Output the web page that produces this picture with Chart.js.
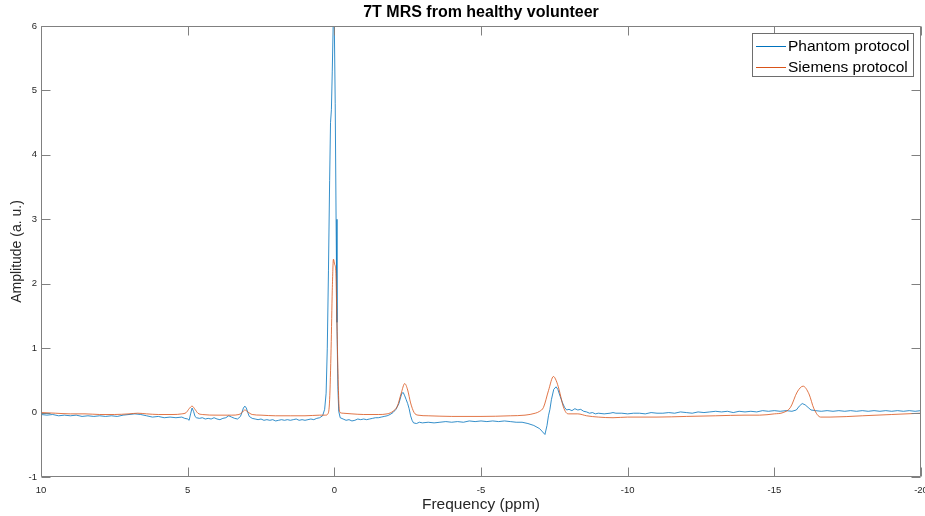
<!DOCTYPE html>
<html>
<head>
<meta charset="utf-8">
<script src="https://cdn.jsdelivr.net/npm/chart.js@4.4.1/dist/chart.umd.min.js"></script>
<style>
html,body{margin:0;padding:0;background:#fff;}
#wrap{width:925px;height:516px;position:relative;}
</style>
</head>
<body>
<div id="wrap"><canvas id="c" width="925" height="516"></canvas></div>
<script>
const chartTitle = "7T MRS from healthy volunteer";
const xTitle = "Frequency (ppm)";
const yTitle = "Amplitude (a. u.)";
const seriesNames = ["Phantom protocol", "Siemens protocol"];
const seriesColors = ["#0072BD", "#D95319"];
const xTicks = [10, 5, 0, -5, -10, -15, -20];
const yTicks = [-1, 0, 1, 2, 3, 4, 5, 6];

const ppmPhantom = [10.0,9.8,9.6,9.4,9.2,9.0,8.8,8.6,8.4,8.2,8.0,7.8,7.6,7.4,7.2,7.0,6.8,6.6,6.4,6.2,6.0,5.8,5.6,5.4,5.2,5.1,5.0,4.95,4.9,4.85,4.8,4.75,4.7,4.6,4.5,4.4,4.3,4.2,4.1,4.0,3.9,3.8,3.7,3.6,3.5,3.4,3.3,3.2,3.15,3.1,3.05,3.0,2.95,2.9,2.8,2.7,2.6,2.5,2.4,2.3,2.2,2.1,2.0,1.9,1.8,1.7,1.6,1.5,1.4,1.3,1.2,1.1,1.0,0.9,0.8,0.7,0.6,0.5,0.4,0.33,0.28,0.24,0.2,0.16,0.13,0.1,0.07,0.04,0.02,0.0,-0.03,-0.06,-0.09,-0.12,-0.15,-0.2,-0.3,-0.4,-0.5,-0.6,-0.7,-0.8,-0.9,-1.0,-1.1,-1.2,-1.3,-1.4,-1.5,-1.6,-1.7,-1.8,-1.9,-2.0,-2.1,-2.2,-2.3,-2.35,-2.4,-2.45,-2.5,-2.55,-2.6,-2.65,-2.7,-2.8,-2.9,-3.0,-3.2,-3.4,-3.6,-3.8,-4.0,-4.2,-4.4,-4.6,-4.8,-5.0,-5.2,-5.4,-5.6,-5.8,-6.0,-6.2,-6.4,-6.6,-6.8,-7.0,-7.1,-7.18,-7.25,-7.3,-7.35,-7.4,-7.48,-7.56,-7.62,-7.7,-7.78,-7.85,-7.92,-8.0,-8.1,-8.2,-8.3,-8.4,-8.5,-8.6,-8.7,-8.8,-8.9,-9.0,-9.2,-9.4,-9.5,-9.6,-9.8,-10.0,-10.2,-10.4,-10.6,-10.8,-11.0,-11.2,-11.4,-11.6,-11.8,-12.0,-12.2,-12.4,-12.6,-12.8,-13.0,-13.2,-13.4,-13.6,-13.8,-14.0,-14.2,-14.4,-14.6,-14.8,-15.0,-15.2,-15.4,-15.6,-15.75,-15.85,-15.95,-16.05,-16.15,-16.25,-16.4,-16.6,-16.8,-17.0,-17.2,-17.4,-17.6,-17.8,-18.0,-18.2,-18.4,-18.6,-18.8,-19.0,-19.2,-19.4,-19.6,-19.8,-20.0];
const ampPhantom = [-0.03,-0.04,-0.03,-0.05,-0.04,-0.05,-0.04,-0.06,-0.05,-0.06,-0.05,-0.06,-0.05,-0.06,-0.04,-0.03,-0.02,-0.03,-0.05,-0.07,-0.06,-0.08,-0.07,-0.08,-0.07,-0.09,-0.10,-0.12,-0.02,0.07,0.02,-0.06,-0.08,-0.09,-0.08,-0.10,-0.09,-0.10,-0.08,-0.10,-0.11,-0.09,-0.08,-0.05,-0.07,-0.09,-0.10,-0.06,0.00,0.07,0.10,0.07,0.00,-0.06,-0.09,-0.10,-0.11,-0.10,-0.12,-0.11,-0.12,-0.11,-0.13,-0.12,-0.11,-0.12,-0.11,-0.12,-0.11,-0.10,-0.12,-0.11,-0.12,-0.11,-0.10,-0.11,-0.09,-0.08,-0.05,0.05,0.30,1.00,2.20,3.60,4.50,4.70,5.30,6.00,6.40,6.00,4.80,3.00,1.40,0.40,0.02,-0.08,-0.10,-0.12,-0.11,-0.13,-0.12,-0.10,-0.11,-0.10,-0.11,-0.10,-0.09,-0.08,-0.08,-0.07,-0.06,-0.05,-0.03,0.00,0.05,0.14,0.30,0.31,0.26,0.20,0.14,0.06,-0.05,-0.12,-0.16,-0.17,-0.15,-0.16,-0.15,-0.16,-0.15,-0.14,-0.15,-0.14,-0.15,-0.13,-0.14,-0.13,-0.14,-0.13,-0.14,-0.13,-0.14,-0.15,-0.15,-0.17,-0.20,-0.25,-0.30,-0.34,-0.20,-0.05,0.05,0.20,0.36,0.40,0.36,0.25,0.15,0.08,0.04,0.05,0.03,0.06,0.04,0.05,0.02,0.01,-0.01,0.00,-0.02,-0.01,-0.02,-0.01,0.00,-0.01,-0.01,-0.02,-0.01,-0.01,-0.02,0.00,-0.01,-0.01,0.00,-0.01,0.01,0.00,-0.01,0.01,0.00,0.01,0.02,0.01,0.02,0.00,0.02,0.01,0.02,0.01,0.03,0.02,0.03,0.02,0.03,0.02,0.04,0.10,0.14,0.12,0.08,0.04,0.03,0.02,0.03,0.02,0.03,0.02,0.03,0.02,0.03,0.02,0.03,0.02,0.03,0.02,0.03,0.02,0.03,0.02,0.03];

const ppmSiemens = [10.0,9.5,9.0,8.5,8.0,7.5,7.0,6.7,6.4,6.0,5.5,5.2,5.05,4.95,4.85,4.75,4.65,4.5,4.0,3.5,3.25,3.15,3.05,2.95,2.8,2.5,2.0,1.5,1.0,0.5,0.3,0.22,0.16,0.11,0.07,0.03,-0.01,-0.05,-0.08,-0.12,-0.16,-0.2,-0.3,-0.6,-1.0,-1.5,-1.8,-2.0,-2.15,-2.28,-2.4,-2.5,-2.6,-2.72,-2.85,-3.2,-4.0,-5.0,-6.0,-6.5,-6.85,-7.0,-7.13,-7.3,-7.47,-7.56,-7.66,-7.8,-7.9,-8.0,-8.3,-8.6,-9.0,-9.5,-10.0,-11.0,-12.0,-13.0,-14.0,-14.5,-15.0,-15.3,-15.55,-15.78,-15.98,-16.18,-16.35,-16.58,-16.9,-18.0,-19.0,-20.0];
const ampSiemens = [0.00,-0.01,-0.02,-0.02,-0.03,-0.03,-0.02,-0.01,-0.02,-0.03,-0.03,-0.02,0.00,0.06,0.10,0.05,-0.01,-0.03,-0.04,-0.04,-0.03,0.00,0.04,0.01,-0.03,-0.04,-0.05,-0.05,-0.05,-0.04,-0.04,-0.02,0.20,1.00,1.90,2.38,2.30,2.20,1.60,0.70,0.10,0.00,-0.01,-0.02,-0.03,-0.03,-0.02,0.02,0.10,0.30,0.45,0.35,0.15,0.00,-0.04,-0.05,-0.06,-0.06,-0.05,-0.04,-0.01,0.02,0.08,0.34,0.56,0.50,0.36,0.10,0.00,-0.02,-0.02,-0.05,-0.07,-0.08,-0.07,-0.07,-0.06,-0.05,-0.04,-0.04,-0.02,0.00,0.08,0.32,0.41,0.29,0.06,-0.07,-0.07,-0.05,-0.03,-0.01];

const FONT = "'Liberation Sans', Arial, Helvetica, sans-serif";
const AXIS_COLOR = "#808080";
const TEXT_COLOR = "#262626";

const toPts = (xs, ys) => xs.map((x, i) => ({x: x, y: ys[i]}));

const boxPlugin = {
  id: 'boxTicks',
  afterDraw(chart) {
    const {ctx, chartArea: a, scales} = chart;
    const xs = scales.x, ys = scales.y;
    const L = Math.round(a.left) + 0.5, R = Math.round(a.right) - 0.5;
    const T = Math.round(a.top) + 0.5, B = Math.round(a.bottom) - 0.5;
    const tl = 9;
    ctx.save();
    ctx.strokeStyle = AXIS_COLOR;
    ctx.lineWidth = 1;
    ctx.beginPath();
    ctx.rect(L, T, R - L, B - T);
    xs.ticks.forEach(t => {
      const px = Math.round(xs.getPixelForValue(t.value)) + 0.5;
      ctx.moveTo(px, B); ctx.lineTo(px, B - tl);
      ctx.moveTo(px, T); ctx.lineTo(px, T + tl);
    });
    ys.ticks.forEach(t => {
      const py = Math.round(ys.getPixelForValue(t.value)) + 0.5;
      ctx.moveTo(L, py); ctx.lineTo(L + tl, py);
      ctx.moveTo(R, py); ctx.lineTo(R - tl, py);
    });
    ctx.stroke();

    // legend
    const lx = 752.5, ly = 33.5, lw = 161, lh = 43;
    ctx.fillStyle = '#fff';
    ctx.fillRect(lx, ly, lw, lh);
    ctx.strokeStyle = '#6e6e6e';
    ctx.lineWidth = 1;
    ctx.strokeRect(lx, ly, lw, lh);
    ctx.font = "15.5px " + FONT;
    ctx.textBaseline = 'middle';
    ctx.textAlign = 'left';
    seriesNames.forEach((name, i) => {
      const cy = 46 + i * 21;
      ctx.beginPath();
      ctx.strokeStyle = seriesColors[i];
      ctx.lineWidth = 1;
      ctx.moveTo(756, cy + 0.5); ctx.lineTo(786, cy + 0.5);
      ctx.stroke();
      ctx.fillStyle = '#000';
      ctx.fillText(name, 788, cy + 0.5);
    });
    ctx.restore();
  }
};

new Chart(document.getElementById('c'), {
  type: 'scatter',
  data: {
    datasets: [
      {label: seriesNames[0], data: toPts(ppmPhantom, ampPhantom), showLine: true, borderColor: seriesColors[0], borderWidth: 0.8, pointRadius: 0, tension: 0, order: 1},
      {label: seriesNames[1], data: toPts(ppmSiemens, ampSiemens), showLine: true, borderColor: seriesColors[1], borderWidth: 0.8, pointRadius: 0, tension: 0.35, cubicInterpolationMode: 'monotone', order: 0}
    ]
  },
  options: {
    responsive: false,
    animation: false,
    devicePixelRatio: 1,
    layout: {padding: {left: 0, right: 4, top: 0, bottom: 0}},
    plugins: {
      legend: {display: false},
      tooltip: {enabled: false},
      title: {
        display: true, text: chartTitle, fullSize: false,
        color: '#000', font: {family: FONT, size: 16, weight: 'bold', lineHeight: 1.125},
        padding: {top: 4, bottom: 4}
      }
    },
    scales: {
      x: {
        type: 'linear', reverse: true, min: -20, max: 10,
        afterBuildTicks: s => { s.ticks = xTicks.map(v => ({value: v})); },
        afterFit: s => { s.height = 39; s.paddingLeft = 0; s.paddingRight = 0; },
        grid: {display: false, drawTicks: false},
        border: {display: false},
        ticks: {color: TEXT_COLOR, font: {family: FONT, size: 9.5}, padding: 8, maxRotation: 0, autoSkip: false},
        title: {display: true, text: xTitle, color: TEXT_COLOR, font: {family: FONT, size: 15.5, lineHeight: 1.2}, padding: {top: 0, bottom: 2}}
      },
      y: {
        type: 'linear', min: -1, max: 6,
        afterBuildTicks: s => { s.ticks = yTicks.map(v => ({value: v})); },
        afterFit: s => { s.width = 41; s.paddingTop = 0; s.paddingBottom = 0; },
        grid: {display: false, drawTicks: false},
        border: {display: false},
        ticks: {color: TEXT_COLOR, font: {family: FONT, size: 9.5}, padding: 4, autoSkip: false},
        title: {display: true, text: yTitle, color: TEXT_COLOR, font: {family: FONT, size: 14, lineHeight: 1.2}, padding: {top: 9, bottom: 0}}
      }
    }
  },
  plugins: [boxPlugin]
});
</script>
</body>
</html>
